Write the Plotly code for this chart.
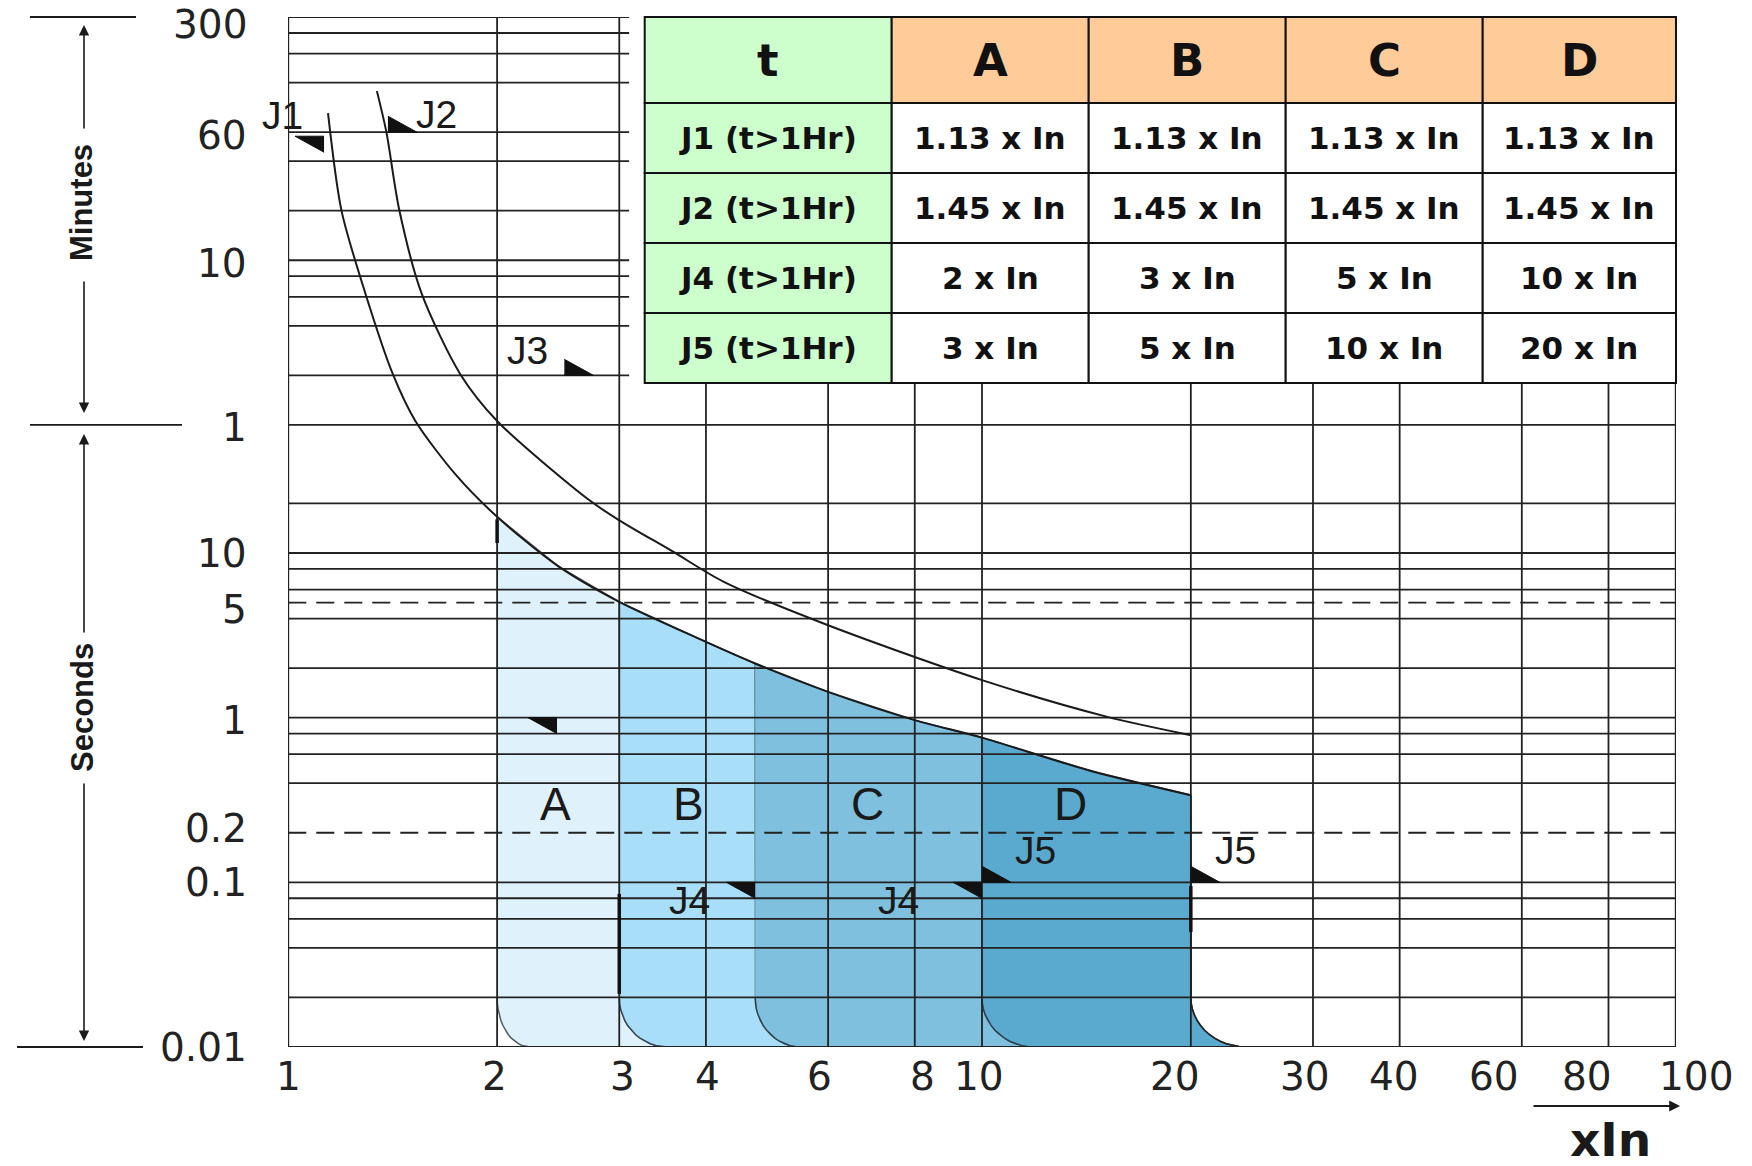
import numpy as np
import plotly.graph_objects as go

# ---------------- axes ----------------
x_tick_vals = [1, 2, 3, 4, 6, 8, 10, 20, 30, 40, 60, 80, 100]
x_tick_text = ["1", "2", "3", "4", "6", "8", "10", "20", "30", "40", "60", "80", "100"]
x_tick_shift = [0, -2, 3, 2, -9, 8, -3, -16, -8, -6, -28, -22, 20]   # label nudges, px
# time axis is in seconds; upper labels are minutes, lower labels seconds
y_tick_vals = [18000, 3600, 600, 60, 10, 5, 1, 0.2, 0.1, 0.01]
y_tick_text = ["300", "60", "10", "1", "10", "5", "1", "0.2", "0.1", "0.01"]
y_tick_shift = [-7, -3, -3, -3, 0, -7, -3, 4, 0, 0]                   # label nudges, px

# ---------------- grid ----------------
grid_upper_t = [18000, 14400, 10800, 7200, 3600, 2400, 1200, 600, 480, 360, 240, 120]
grid_lower_t = [60, 20, 10, 8, 6, 4, 2, 1, 0.8, 0.6, 0.4, 0.1, 0.08, 0.06, 0.04, 0.02, 0.01]
grid_dashed_t = [5, 0.2]
grid_tall_x = [1, 2, 3]
grid_short_x = [4, 6, 8, 10, 20, 30, 40, 60, 80, 100]
upper_grid_xmax = 3.1

# ---------------- tripping curves ----------------
j1_x = [1.141, 1.193, 1.292, 1.415, 1.524, 1.742, 2.0, 2.449, 3.0, 4.0, 4.71, 6.0, 8.0, 10.0, 14.5, 20.0]
j1_t = [4700, 1206, 376, 122, 63.6, 30, 16.6, 8.32, 5.05, 2.886, 2.134, 1.434, 0.966, 0.756, 0.469, 0.338]

j2_x = [1.342, 1.385, 1.445, 1.557, 1.770, 2.0, 2.718, 3.0, 3.576, 4.245, 6.0, 10.0, 15.16, 20.0]
j2_t = [6390, 3600, 1220, 376, 122, 63.4, 20.9, 15.8, 10.26, 6.68, 3.64, 1.69, 1.011, 0.783]

# magnetic zones A..D
zone_names = ["A", "B", "C", "D"]
zone_edges = [2, 3, 4.71, 10, 20]
zone_tail_x = [2.23, 3.52, 5.48, 11.88, 24.0]
bend_t = 0.02
zone_colors = ["#DFF1FB", "#A8DEF7", "#7EC0DE", "#5AAACF"]
zone_label_x = [2.43, 3.78, 6.84, 13.4]
zone_label_t = 0.3

# reference wedges (position of the right-angle corner)
mark_x = [1.126, 1.392, 2.5, 2.44, 4.71, 10, 10, 20]
mark_t = [3400, 3600, 120, 1.0, 0.1, 0.1, 0.1, 0.1]
mark_kind = ["ne", "sw", "sw", "ne", "ne", "ne", "sw", "sw"]

jlab_text = ["J1", "J2", "J3", "J4", "J4", "J5", "J5"]
jlab_x = [0.981, 1.638, 2.21, 3.79, 7.57, 11.95, 23.2]
jlab_t = [4550, 4620, 170, 0.078, 0.078, 0.157, 0.157]

# heavier strokes on some zone edges
stub_x = [2, 3, 20]
stub_t_top = [16, 0.085, 0.095]
stub_t_bot = [11.5, 0.021, 0.05]

# ---------------- table ----------------
table_header = ["t", "A", "B", "C", "D"]
row_labels = ["J1 (t>1Hr)", "J2 (t>1Hr)", "J4 (t>1Hr)", "J5 (t>1Hr)"]
mult_j1 = [1.13, 1.13, 1.13, 1.13]
mult_j2 = [1.45, 1.45, 1.45, 1.45]
mult_j4 = [2, 3, 5, 10]
mult_j5 = [3, 5, 10, 20]

# ---------------- geometry ----------------
W, H = 1752, 1166
ML, MR, MT, MB = 288, 76, 17, 119
PW, PH = W - ML - MR, H - MT - MB
XR = [0.0, 2.0]
YR = [-2.0, float(np.log10(18000))]
XPX = PW / (XR[1] - XR[0])
YPX = PH / (YR[1] - YR[0])

TBL_LEFT = 644.7
TBL_COL_W = [247, 197, 197, 197, 193.3]
TBL_HEAD_H = 86
TBL_ROW_H = 70


def paper_x(v):
    return (np.log10(v) - XR[0]) / (XR[1] - XR[0])


def paper_y(t):
    return (np.log10(t) - YR[0]) / (YR[1] - YR[0])


def px_x(px):
    return (px - ML) / PW


def px_y(py):
    return (MT + PH - py) / PH


def seg_lines(pairs):
    xs, ys = [], []
    for (xa, ta), (xb, tb) in pairs:
        xs += [xa, xb, None]
        ys += [ta, tb, None]
    return xs, ys


def corner(bx, tx, n=14):
    th = np.linspace(0, np.pi / 2, n)
    lx = np.log10(bx) + (np.log10(tx) - np.log10(bx)) * (1 - np.cos(th))
    lt = -2 + (np.log10(bend_t) + 2) * (1 - np.sin(th))
    return list(10 ** lx), list(10 ** lt)


def label(x, y, text, font, xanchor="center", **kw):
    return dict(x=x, y=y, xref="paper", yref="paper", text=text, showarrow=False,
                xanchor=xanchor, yanchor="middle", font=font, **kw)


fig = go.Figure()

# zones
for k, name in enumerate(zone_names):
    L, R = zone_edges[k], zone_edges[k + 1]
    top = [(x, t) for x, t in zip(j1_x, j1_t) if L <= x <= R]
    px = [p[0] for p in top]
    pt = [p[1] for p in top]
    rx, rt = corner(R, zone_tail_x[k + 1])
    lx, lt = corner(L, zone_tail_x[k])
    px += rx + lx[::-1]
    pt += rt + lt[::-1]
    fig.add_trace(go.Scatter(x=px, y=pt, mode="lines", fill="toself",
                             fillcolor=zone_colors[k],
                             line=dict(color="rgba(40,50,60,0.8)", width=1.5),
                             hoverinfo="skip"))
rx, rt = corner(zone_edges[-1], zone_tail_x[-1])
fig.add_trace(go.Scatter(x=[zone_edges[-1]] + rx, y=[j1_t[-1]] + rt, mode="lines",
                         line=dict(color="#222", width=1.6), hoverinfo="skip"))

# grid
ymax_t = 10 ** YR[1]
tbl_h = TBL_HEAD_H + 4 * TBL_ROW_H
table_bottom_t = 10 ** (YR[0] + (1 - tbl_h / PH) * (YR[1] - YR[0]))
pairs = [((1, t), (upper_grid_xmax, t)) for t in grid_upper_t]
pairs += [((1, t), (100, t)) for t in grid_lower_t]
pairs += [((x, 0.01), (x, ymax_t)) for x in grid_tall_x]
pairs += [((x, 0.01), (x, table_bottom_t)) for x in grid_short_x]
gx, gy = seg_lines(pairs)
fig.add_trace(go.Scatter(x=gx, y=gy, mode="lines", line=dict(color="#222", width=1.8),
                         connectgaps=False, hoverinfo="skip"))
dx, dy = seg_lines([((1, t), (100, t)) for t in grid_dashed_t])
fig.add_trace(go.Scatter(x=dx, y=dy, mode="lines",
                         line=dict(color="#222", width=1.8, dash="18px,10px"),
                         connectgaps=False, hoverinfo="skip"))

sx, sy = seg_lines([((x, a), (x, b)) for x, a, b in zip(stub_x, stub_t_top, stub_t_bot)])
fig.add_trace(go.Scatter(x=sx, y=sy, mode="lines", line=dict(color="#111", width=3.5),
                         connectgaps=False, hoverinfo="skip"))

# curves J1 / J2
for cx, ct in ((j1_x, j1_t), (j2_x, j2_t)):
    fig.add_trace(go.Scatter(x=cx, y=ct, mode="lines",
                             line=dict(color="#1a1a1a", width=2, shape="spline", smoothing=0.8),
                             hoverinfo="skip"))

# wedges
LEG_H, LEG_V = 29, 16
fx = 10 ** (LEG_H / XPX)
fy = 10 ** (LEG_V / YPX)
wx, wy = [], []
for x, t, kind in zip(mark_x, mark_t, mark_kind):
    if kind == "ne":
        wx += [x, x / fx, x, None]
        wy += [t, t, t / fy, None]
    else:
        wx += [x, x * fx, x, None]
        wy += [t, t, t * fy, None]
fig.add_trace(go.Scatter(x=wx, y=wy, mode="lines", fill="toself", fillcolor="#111",
                         line=dict(color="#111", width=1), hoverinfo="skip"))

shapes, annotations = [], []

# table cells
green, orange = "#CCFFCC", "#FFCC99"
body = [row_labels] + [[f"{m[c]:g} x In" for m in (mult_j1, mult_j2, mult_j4, mult_j5)] for c in range(4)]
col_x = np.concatenate([[TBL_LEFT], TBL_LEFT + np.cumsum(TBL_COL_W)])
row_y = [MT, MT + TBL_HEAD_H] + [MT + TBL_HEAD_H + TBL_ROW_H * (i + 1) for i in range(4)]
for c in range(5):
    for r in range(5):
        if r == 0:
            fill = green if c == 0 else orange
            txt, size = table_header[c], 45
        else:
            fill = green if c == 0 else "white"
            txt, size = body[c][r - 1], 31
        shapes.append(dict(type="rect", xref="paper", yref="paper", layer="above",
                           x0=px_x(col_x[c]), x1=px_x(col_x[c + 1]),
                           y0=px_y(row_y[r + 1]), y1=px_y(row_y[r]),
                           fillcolor=fill, line=dict(color="#111", width=2)))
        annotations.append(label(px_x((col_x[c] + col_x[c + 1]) / 2),
                                 px_y((row_y[r] + row_y[r + 1]) / 2), f"<b>{txt}</b>",
                                 dict(family="DejaVu Sans", size=size, color="#111")))

# zone letters
for name, x in zip(zone_names, zone_label_x):
    annotations.append(label(paper_x(x), paper_y(zone_label_t), name,
                             dict(family="Liberation Sans", size=46, color="#1a1a1a")))
# J labels
for txt, x, t in zip(jlab_text, jlab_x, jlab_t):
    annotations.append(label(paper_x(x), paper_y(t), txt,
                             dict(family="Liberation Sans", size=39, color="#1a1a1a")))

# axis tick labels
tick_font = dict(family="DejaVu Sans", size=39, color="#222")
for v, s, sh in zip(x_tick_vals, x_tick_text, x_tick_shift):
    annotations.append(label(paper_x(v), px_y(1076), s, tick_font, xshift=sh))
for v, s, sh in zip(y_tick_vals, y_tick_text, y_tick_shift):
    annotations.append(label(px_x(249), paper_y(v), s, tick_font, xanchor="right", yshift=sh))

# side scale: Minutes / Seconds
side_font = dict(family="Liberation Sans", size=31, color="#1a1a1a")
ax_x = px_x(84)
annotations.append(label(px_x(82), px_y(203), "<b>Minutes</b>", side_font, textangle=-90))
annotations.append(label(px_x(82), px_y(708), "<b>Seconds</b>", side_font, textangle=-90))
for head, tail in ((25, 130), (413, 280), (434, 634), (1041, 782)):
    annotations.append(dict(x=ax_x, y=px_y(head), xref="paper", yref="paper", text="",
                            showarrow=True, ax=0, ay=tail - head, arrowhead=2, arrowsize=1.3,
                            arrowwidth=1.6, arrowcolor="#1a1a1a", standoff=0))
# unit label and arrow
annotations.append(label(px_x(1610), px_y(1139), "<b>xIn</b>",
                         dict(family="DejaVu Sans", size=47, color="#1a1a1a")))
annotations.append(dict(x=px_x(1680), y=px_y(1106), xref="paper", yref="paper", text="",
                        showarrow=True, ax=-148, ay=0, arrowhead=2, arrowsize=1.2,
                        arrowwidth=1.8, arrowcolor="#1a1a1a", standoff=0))

for t, xa, xb in ((18000, 30, 136), (60, 30, 182), (0.01, 17, 143)):
    shapes.append(dict(type="line", xref="paper", yref="paper",
                       x0=px_x(xa), x1=px_x(xb), y0=paper_y(t), y1=paper_y(t),
                       line=dict(color="#1a1a1a", width=1.8)))

fig.update_layout(
    width=W, height=H, margin=dict(l=ML, r=MR, t=MT, b=MB, pad=0, autoexpand=False),
    paper_bgcolor="white", plot_bgcolor="white", showlegend=False,
    annotations=annotations, shapes=shapes,
)
fig.update_xaxes(type="log", range=[XR[0] - 0.0004, XR[1] + 0.0004], showticklabels=False,
                 ticks="", showgrid=False, zeroline=False, showline=False, automargin=False)
fig.update_yaxes(type="log", range=[YR[0] - 0.0004, YR[1] + 0.0004], showticklabels=False,
                 ticks="", showgrid=False, zeroline=False, showline=False, automargin=False)

fig.write_html("out.html")
